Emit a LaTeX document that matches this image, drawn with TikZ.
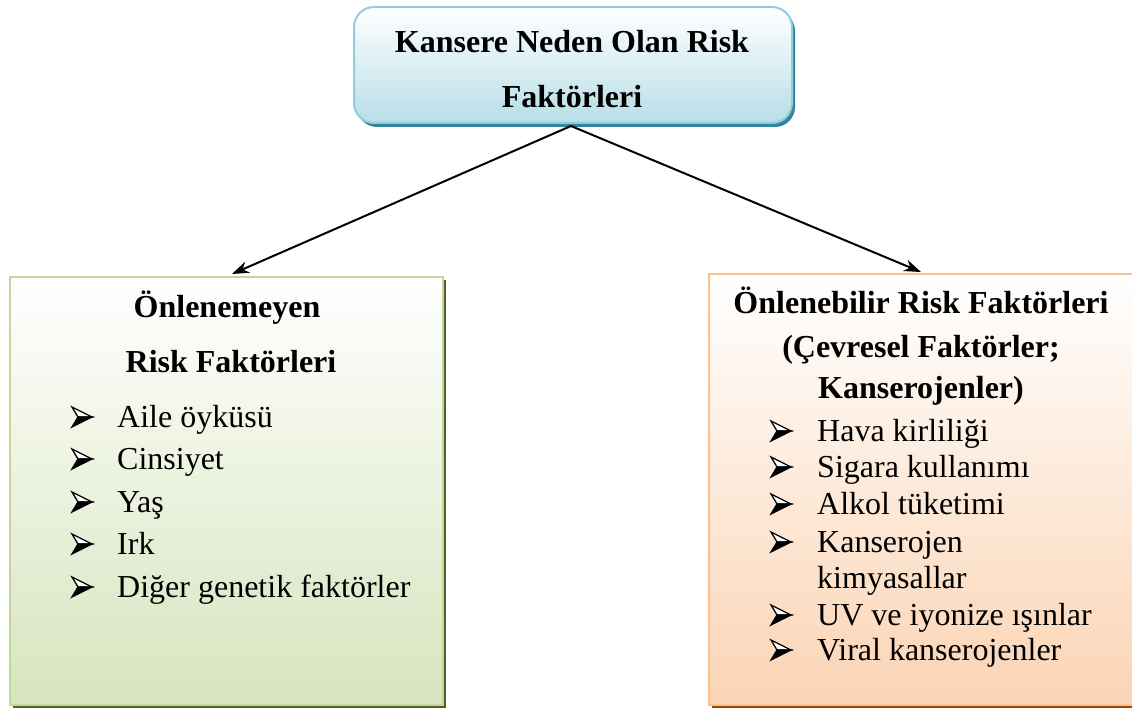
\documentclass[tikz,border=0pt]{standalone}
\usepackage{fontspec}
\setmainfont{Liberation Serif}
\usetikzlibrary{arrows.meta}
\definecolor{topborder}{HTML}{93CDDD}
\definecolor{topfill}{HTML}{B7DEE8}
\definecolor{topshadow}{HTML}{31859C}
\definecolor{lborder}{HTML}{C3D69B}
\definecolor{lfill}{HTML}{D7E4BD}
\definecolor{lshadow}{HTML}{4F6228}
\definecolor{rborder}{HTML}{FAC090}
\definecolor{rfill}{HTML}{FBD4B4}
\definecolor{rshadow}{HTML}{984807}
\tikzset{
  big/.style={font=\fontsize{32}{38}\selectfont},
  bigb/.style={font=\fontsize{32}{38}\selectfont\bfseries},
  item/.style={big, anchor=base west, inner sep=0pt},
  ttl/.style={bigb, anchor=base, inner sep=0pt},
  conn/.style={line width=2pt, -{Stealth[length=17pt,width=12pt]}},
  arrbullet/.pic={
    \fill[black] (10,0) -- (-4,0) -- (-10,10) -- cycle;
    \draw[black, line width=1.3pt, line join=miter, fill=white] (10,0) -- (-10,-10) -- (-4,0) -- cycle;
    \draw[black, line width=1.3pt, line join=miter] (10,0) -- (-4,0) -- (-10,10) -- cycle;
  },
}
\begin{document}
\begin{tikzpicture}[x=1pt,y=-1pt]
\useasboundingbox (0,0) rectangle (1132,708);
% shadows
\fill[topshadow, rounded corners=20pt] (357,11) rectangle (795,127);
\fill[lshadow] (13,280) rectangle (446,708);
\fill[rshadow] (712,277) rectangle (1140,708);
% boxes
\node[draw=topborder, line width=2pt, rounded corners=20pt, top color=white, bottom color=topfill,
      minimum width=438pt, minimum height=116pt, inner sep=0pt] (top) at (573,65) {};
\node[draw=lborder, line width=2pt, top color=white, bottom color=lfill,
      minimum width=433pt, minimum height=428pt, inner sep=0pt] (left) at (226.5,491) {};
\node[draw=rborder, line width=2pt, top color=white, bottom color=rfill,
      minimum width=426pt, minimum height=431pt, inner sep=0pt] (right) at (922,489.5) {};
% title text
\node[ttl] (t1) at (572,53) {Kansere Neden Olan Risk};
\node[ttl] (t2) at (572,108) {Faktörleri};
% left box
\node[ttl] (l1) at (227,318) {Önlenemeyen};
\node[ttl] (l2) at (231,373) {Risk Faktörleri};
\foreach \y/\t [count=\i] in {427/Aile öyküsü,469/Cinsiyet,512/Yaş,554/Irk,597/Diğer genetik faktörler}{
  \pic (lb\i) at (82,\y-10) {arrbullet};
  \node[item] (li\i) at (117,\y) {\t};
}
% right box
\node[ttl] (r1) at (921,314) {Önlenebilir Risk Faktörleri};
\node[ttl] (r2) at (921,357) {(Çevresel Faktörler;};
\node[ttl] (r3) at (921,398) {Kanserojenler)};
\foreach \y/\t [count=\i] in {441/Hava kirliliği,477/Sigara kullanımı,514/Alkol tüketimi,552/Kanserojen,625/UV ve iyonize ışınlar,660/Viral kanserojenler}{
  \pic (rb\i) at (781,\y-10) {arrbullet};
  \node[item] (ri\i) at (817,\y) {\t};
}
\node[item] (ri7) at (817,588) {kimyasallar};
% connectors
\coordinate (src) at (571,126);
\coordinate (ltip) at (232,274);
\coordinate (rtip) at (921,272);
\draw[conn] (src) -- (ltip);
\draw[conn] (src) -- (rtip);
\end{tikzpicture}
\end{document}
